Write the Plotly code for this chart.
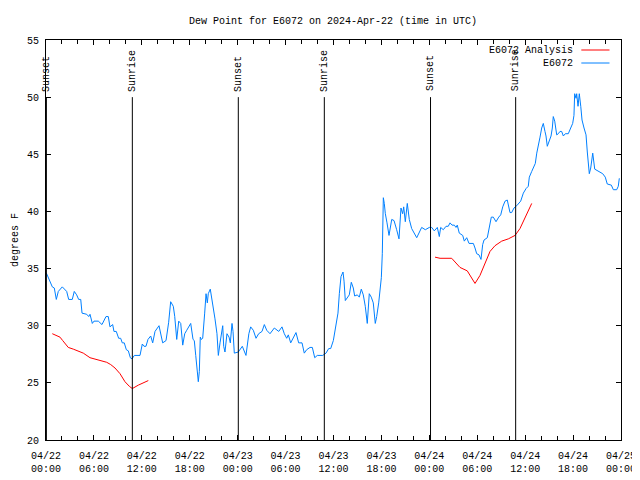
import plotly.graph_objects as go
from datetime import datetime, timedelta

BASE = datetime(2024, 4, 22, 0, 0)

title_text = "Dew Point for E6072 on 2024-Apr-22 (time in UTC)"
y_label = "degrees F"
obs_name = "E6072"
ana_name = "E6072 Analysis"

# E6072 observations: hours since 04/22 00:00 UTC, dew point (F)
obs_hours = [0.05, 0.29, 0.50, 0.79, 1.04, 1.29, 1.54, 2.04, 2.59, 2.84, 3.29, 3.54, 3.84, 4.09, 4.35, 4.51,
             5.10, 5.35, 5.51, 5.80, 6.01, 6.55, 7.01, 7.51, 7.80, 8.01, 8.35, 8.51, 8.80, 9.10, 9.35, 9.55,
             9.80, 10.06, 10.31, 10.56, 10.77, 11.06, 11.77, 12.06, 12.27, 12.52, 12.77, 13.11, 13.36, 13.65,
             14.15, 14.61, 15.03, 15.36, 15.61, 15.94, 16.12, 16.37, 16.62, 16.87, 17.12, 17.37, 17.62, 18.12,
             18.41, 18.57, 18.75, 18.95, 19.07, 19.20, 19.32, 19.45, 19.62, 19.87, 20.04, 20.20, 20.32, 20.57,
             20.75, 20.95, 21.16, 21.41, 21.58, 21.79, 22.00, 22.13, 22.25, 22.41, 22.66, 22.92, 23.08, 23.29,
             23.42, 23.58, 24.08, 24.58, 25.04, 25.20, 25.40, 25.63, 25.96, 26.30, 26.63, 27.05, 27.34, 27.64,
             28.05, 28.59, 29.14, 29.55, 29.84, 30.14, 30.34, 30.64, 30.97, 31.30, 31.64, 32.06, 32.34, 32.64,
             33.06, 33.35, 33.65, 33.97, 34.65, 35.06, 35.40, 35.65, 35.98, 36.31, 36.56, 36.73, 36.94, 37.19,
             37.32, 37.48, 37.73, 37.98, 38.23, 38.48, 38.65, 38.98, 39.23, 39.48, 39.73, 39.98, 40.23, 40.48,
             40.73, 40.98, 41.23, 41.41, 41.66, 41.82, 41.99, 42.11, 42.24, 42.36, 42.49, 42.70, 42.95, 43.29,
             43.58, 43.91, 44.20, 44.45, 44.66, 44.79, 44.99, 45.24, 45.49, 45.79, 46.08, 46.42, 47.04, 47.50,
             48.00, 48.30, 48.62, 49.00, 49.25, 49.42, 49.75, 50.09, 50.37, 50.59, 50.84, 51.13, 51.34, 51.50,
             51.75, 52.18, 52.38, 52.68, 52.97, 53.51, 53.72, 53.93, 54.22, 54.47, 54.68, 54.85, 55.26, 55.51,
             55.76, 56.01, 56.35, 56.69, 56.94, 57.19, 57.48, 57.76, 58.10, 58.31, 58.60, 58.94, 59.19, 59.44,
             59.77, 60.11, 60.39, 60.52, 60.82, 61.11, 61.27, 61.45, 61.65, 61.86, 62.07, 62.27, 62.48, 62.61,
             62.77, 63.02, 63.24, 63.40, 63.52, 63.70, 63.95, 64.15, 64.36, 64.57, 64.78, 65.03, 65.40, 65.70,
             65.95, 66.11, 66.20, 66.37, 66.45, 66.62, 66.78, 66.96, 67.12, 67.37, 67.62, 67.78, 68.03, 68.21,
             68.46, 68.71, 68.96, 69.37, 69.71, 70.03, 70.28, 70.79, 71.04, 71.46, 71.66, 71.79]
obs_vals = [34.6, 34.2, 34.0, 33.4, 33.3, 32.3, 33.0, 33.4, 33.0, 32.3, 32.3, 33.0, 32.7, 32.3, 32.3, 31.1,
            31.0, 30.8, 31.0, 30.2, 30.4, 30.4, 30.1, 30.8, 30.8, 29.9, 30.1, 29.5, 29.5, 28.9, 28.9, 28.5,
            28.5, 27.9, 27.8, 27.2, 27.1, 27.4, 27.4, 28.4, 28.2, 28.2, 28.8, 29.1, 28.5, 29.5,
            30.0, 28.5, 28.7, 30.3, 32.1, 31.7, 30.8, 28.8, 30.4, 30.2, 28.3, 29.3, 29.6, 30.2,
            28.8, 28.7, 27.4, 26.1, 25.1, 26.0, 29.0, 28.8, 28.9, 31.1, 32.8, 32.0, 32.8, 33.2,
            32.5, 31.7, 30.6, 29.3, 27.4, 28.5, 29.4, 30.0, 28.2, 27.7, 29.3, 29.0, 28.5, 30.2,
            29.5, 27.6, 27.7, 28.2, 27.4, 28.5, 29.3, 29.9, 29.6, 28.9, 29.3, 29.5, 30.1, 29.6,
            29.3, 29.8, 29.5, 29.9, 29.3, 28.9, 29.2, 28.5, 29.0, 29.4, 28.5, 28.5, 27.6, 27.9,
            28.1, 28.1, 27.2, 27.4, 27.4, 27.6, 28.0, 28.0, 28.7, 30.0, 31.1, 32.8, 34.3, 34.7,
            33.9, 32.2, 32.5, 32.7, 33.8, 33.3, 32.6, 32.7, 32.5, 33.2, 32.7, 31.7, 30.2, 32.8,
            32.5, 32.0, 30.2, 30.8, 32.0, 33.4, 34.2, 36.3, 41.2, 40.7, 39.8, 39.0, 37.9, 39.3,
            39.2, 38.4, 37.6, 40.3, 39.8, 40.4, 39.1, 40.7, 39.3, 38.5, 38.1, 37.7, 38.6, 38.4,
            38.6, 38.6, 38.3, 38.6, 37.8, 38.6, 38.4, 38.7, 38.7, 39.0, 38.8, 38.8, 38.6, 38.8,
            38.1, 37.9, 37.4, 37.7, 37.2, 37.2, 36.8, 36.3, 36.2, 35.8, 37.1, 37.5, 37.7, 38.7,
            39.5, 39.5, 39.1, 39.5, 39.7, 40.4, 40.9, 41.0, 39.9, 39.9, 40.3, 40.5, 40.7, 40.9,
            41.6, 42.0, 42.2, 43.0, 43.5, 44.0, 44.2, 45.1, 45.7, 46.5, 47.3, 47.7, 47.0, 46.6,
            45.7, 46.3, 46.6, 47.3, 48.3, 47.9, 46.7, 46.8, 47.0, 47.0, 46.6, 46.8, 46.8, 47.3,
            47.7, 48.4, 50.3, 49.9, 50.3, 49.2, 50.3, 49.2, 48.0, 47.3, 46.7, 45.2, 43.3, 43.8,
            45.1, 43.7, 43.6, 43.5, 43.3, 43.0, 42.4, 42.3, 41.9, 41.9, 42.2, 42.9]

# E6072 Analysis (None marks the gap)
ana_hours = [0.79, 1.34, 1.75, 2.09, 2.79, 3.42, 3.97, 4.67, 5.51, 6.14, 6.76, 7.60, 8.10, 8.64, 9.27, 9.89,
             10.43, 10.81, 11.56, 12.18, 12.81, None,
             48.71, 49.34, 50.80, 51.84, 52.75, 53.31, 53.72, 54.34, 54.97, 55.60, 56.22, 57.06, 57.89,
             58.73, 59.35, 59.98, 60.82]
ana_vals = [29.3, 29.1, 29.0, 28.7, 28.1, 27.95, 27.8, 27.6, 27.2, 27.1, 27.0, 26.8, 26.6, 26.3, 25.8, 25.1,
            24.7, 24.5, 24.8, 25.0, 25.2, None,
            36.0, 35.9, 35.9, 35.1, 34.8, 34.2, 33.7, 34.4, 35.5, 36.5, 37.0, 37.4, 37.6,
            37.9, 38.5, 39.5, 40.7]

# Sunrise / sunset markers
sun_hours = [0.05, 10.81, 24.08, 34.85, 48.15, 58.81]
sun_labels = ["Sunset", "Sunrise", "Sunset", "Sunrise", "Sunset", "Sunrise"]
sun_line_top = 50.0
sun_label_y = 50.4

tick_hours = [0, 6, 12, 18, 24, 30, 36, 42, 48, 54, 60, 66, 72]
tick_labels = ["04/22<br>00:00", "04/22<br>06:00", "04/22<br>12:00", "04/22<br>18:00",
               "04/23<br>00:00", "04/23<br>06:00", "04/23<br>12:00", "04/23<br>18:00",
               "04/24<br>00:00", "04/24<br>06:00", "04/24<br>12:00", "04/24<br>18:00",
               "04/25<br>00:00"]
minor_tick_hours = list(range(0, 73, 2))
y_ticks = [20, 25, 30, 35, 40, 45, 50, 55]
y_range = [20, 55]

RED = "#ff0000"
BLUE = "#0080ff"
FONT = "Liberation Mono, DejaVu Sans Mono, monospace"

# the page body has an 8px default margin; the figure is offset by it in the window
PAD = 8
FIG_W, FIG_H = 660, 480 - PAD


def t(h):
    return None if h is None else BASE + timedelta(hours=h)


fig = go.Figure()
fig.add_trace(go.Scatter(x=[t(h) for h in ana_hours], y=ana_vals, mode="lines",
                         line=dict(color=RED, width=1), name=ana_name, connectgaps=False))
fig.add_trace(go.Scatter(x=[t(h) for h in obs_hours], y=obs_vals, mode="lines",
                         line=dict(color=BLUE, width=1), name=obs_name))

shapes = []
annotations = []
for h, lab in zip(sun_hours, sun_labels):
    shapes.append(dict(type="line", xref="x", yref="y", x0=t(h), x1=t(h), y0=y_range[0], y1=sun_line_top,
                       line=dict(color="black", width=1)))
    annotations.append(dict(x=t(h), y=sun_label_y, xref="x", yref="y", text=lab, textangle=-90,
                            showarrow=False, xanchor="center", yanchor="bottom",
                            font=dict(family=FONT, size=10, color="black"), borderpad=0))

# legend (gnuplot style: text left of sample)
leg = [(ana_name, RED, 0.975), (obs_name, BLUE, 0.9425)]
for name, col, yp in leg:
    annotations.append(dict(x=0.919, y=yp, xref="paper", yref="paper", text=name, showarrow=False,
                            xanchor="right", yanchor="middle", borderpad=0,
                            font=dict(family=FONT, size=10, color="black")))
    shapes.append(dict(type="line", xref="paper", yref="paper", x0=0.931, x1=0.980, y0=yp, y1=yp,
                       line=dict(color=col, width=1)))

annotations.append(dict(x=-0.054, y=0.5, xref="paper", yref="paper", text=y_label, textangle=-90,
                        showarrow=False, xanchor="center", yanchor="middle",
                        font=dict(family=FONT, size=10, color="black")))

fig.update_layout(
    width=FIG_W, height=FIG_H,
    margin=dict(l=46 - PAD, r=FIG_W - (621 - PAD), t=40 - PAD, b=FIG_H - (440 - PAD), autoexpand=False),
    paper_bgcolor="white", plot_bgcolor="white",
    showlegend=False,
    font=dict(family=FONT, size=10, color="black"),
    title=dict(text=title_text, x=(333 - PAD) / FIG_W, xanchor="center", y=1 - (20 - PAD) / FIG_H,
               yanchor="middle", xref="container", yref="container",
               font=dict(family=FONT, size=10, color="black")),
    shapes=shapes, annotations=annotations,
)
fig.update_xaxes(
    type="date", range=[t(0), t(72)], automargin=False, ticklabeloverflow="allow",
    tickmode="array", tickvals=[t(h) for h in tick_hours], ticktext=tick_labels,
    ticks="inside", ticklen=5, tickcolor="black", tickwidth=1, ticklabelstandoff=6,
    minor=dict(tickmode="array", tickvals=[t(h) for h in minor_tick_hours], ticks="inside",
               ticklen=4, tickcolor="black", tickwidth=1, showgrid=False),
    showline=True, linecolor="black", linewidth=1, mirror="allticks",
    showgrid=False, zeroline=False, tickfont=dict(family=FONT, size=10, color="black"),
)
fig.update_yaxes(
    range=y_range, tickmode="array", tickvals=y_ticks, automargin=False,
    ticks="inside", ticklen=5, tickcolor="black", tickwidth=1, ticklabelstandoff=4,
    showline=True, linecolor="black", linewidth=1, mirror="allticks",
    showgrid=False, zeroline=False, tickfont=dict(family=FONT, size=10, color="black"),
)

fig.write_html("out.html")
